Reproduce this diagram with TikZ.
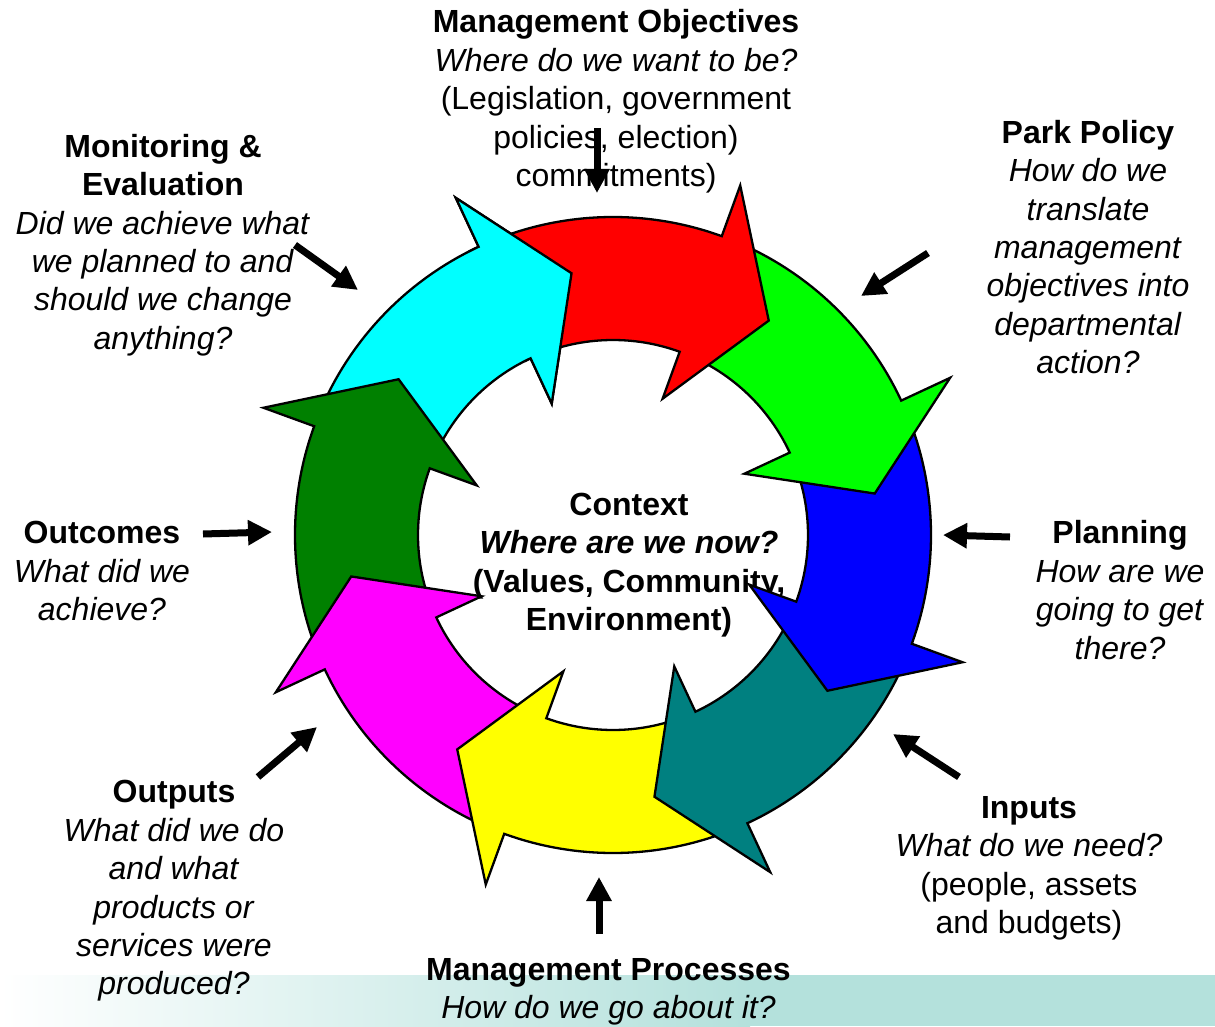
\documentclass[tikz,border=0pt]{standalone}
\usepackage{fontspec}
\setmainfont{Liberation Sans}
\usetikzlibrary{arrows.meta}

\definecolor{bandteal}{RGB}{180,225,220}
\definecolor{cycred}{RGB}{255,0,0}
\definecolor{cycgreen}{RGB}{0,255,0}
\definecolor{cycblue}{RGB}{0,0,255}
\definecolor{cycteal}{RGB}{0,128,128}
\definecolor{cycyellow}{RGB}{255,255,0}
\definecolor{cycmagenta}{RGB}{255,0,255}
\definecolor{cycdkgreen}{RGB}{0,128,0}
\definecolor{cyccyan}{RGB}{0,255,255}

\tikzset{
  ringpiece/.style={draw=black, line width=2.3pt, line join=miter},
  pointer/.style={line width=7pt, -{Triangle[length=24pt,width=24pt]}},
  caption/.style={align=center, font=\fontsize{32}{38.4}\selectfont, inner sep=0pt},
}

% colour, angle of the back of the head
\newcommand{\ringarrow}[2]{%
  \filldraw[ringpiece, fill=#1] (#2+43:\Rout) arc[start angle=#2+43, end angle=#2, radius=\Rout]
    -- (#2:\Rbo) -- (#2-16:\Rtip) -- (#2:\Rbi) -- (#2:\Rin)
    arc[start angle=#2, end angle=#2+43, radius=\Rin] -- cycle;}

\begin{document}
\begin{tikzpicture}[x=1pt,y=1pt]
\def\Rout{318}
\def\Rin{195}
\def\Rbo{372}
\def\Rbi{145}
\def\Rtip{265}

\useasboundingbox (-613,-491) rectangle (602,535);

% band along the bottom
\shade[left color=white, right color=bandteal] (-613,-491) rectangle (137,-440);
\fill[bandteal] (137,-491) rectangle (602,-440);

% texts
\node[caption] (objectives) at (3,433.5) {\textbf{Management Objectives}\\\textit{Where do we want to be?}\\(Legislation, government\\policies, election)\\commitments)};
\node[caption] (policy) at (475,288) {\textbf{Park Policy}\\\textit{How do we}\\\textit{translate}\\\textit{management}\\\textit{objectives into}\\\textit{departmental}\\\textit{action?}};
\node[caption] (planning) at (507,-55) {\textbf{Planning}\\\textit{How are we}\\\textit{going to get}\\\textit{there?}};
\node[caption] (inputs) at (416,-333.5) {\textbf{Inputs}\\\textit{What do we need?}\\(people, assets\\and budgets)};
\node[caption] (processes) at (-4.5,-457) {\textbf{Management Processes}\\\textit{How do we go about it?}};
\node[caption] (outputs) at (-439,-356) {\textbf{Outputs}\\\textit{What did we do}\\\textit{and what}\\\textit{products or}\\\textit{services were}\\\textit{produced?}};
\node[caption] (outcomes) at (-511,-36) {\textbf{Outcomes}\\\textit{What did we}\\\textit{achieve?}};
\node[caption] (monitoring) at (-450,290) {\textbf{Monitoring \&}\\\textbf{Evaluation}\\\textit{Did we achieve what}\\\textit{we planned to and}\\\textit{should we change}\\\textit{anything?}};
\node[caption] (context) at (16,-30) {\textbf{Context}\\\textbf{\textit{Where are we now?}}\\\textbf{(Values, Community,}\\\textbf{Environment)}};

% ring, backwards so each head lies on the next tail
\ringarrow{cyccyan}{115}
\ringarrow{cycdkgreen}{160}
\ringarrow{cycmagenta}{205}
\ringarrow{cycyellow}{250}
\ringarrow{cycteal}{295}
\ringarrow{cycblue}{340}
\ringarrow{cycgreen}{25}
\ringarrow{cycred}{70}
% cyan head again, over the red tail
\begin{scope}
\clip (0,0) -- (96:420) arc[start angle=96, end angle=117, radius=420] -- cycle;
\ringarrow{cyccyan}{115}
\end{scope}

% pointers
\coordinate (objectives-a) at (-16,407);
\coordinate (objectives-b) at (-16,342);
\coordinate (policy-a) at (315,282);
\coordinate (policy-b) at (248,239);
\coordinate (planning-a) at (397,-2);
\coordinate (planning-b) at (330,0);
\coordinate (inputs-a) at (346,-242);
\coordinate (inputs-b) at (280,-199);
\coordinate (processes-a) at (-14,-399);
\coordinate (processes-b) at (-14,-342);
\coordinate (outputs-a) at (-355,-242);
\coordinate (outputs-b) at (-296,-192);
\coordinate (outcomes-a) at (-410,1);
\coordinate (outcomes-b) at (-341,3);
\coordinate (monitoring-a) at (-318,290);
\coordinate (monitoring-b) at (-255,245);

\draw[pointer] (objectives-a) -- (objectives-b);
\draw[pointer] (policy-a) -- (policy-b);
\draw[pointer] (planning-a) -- (planning-b);
\draw[pointer] (inputs-a) -- (inputs-b);
\draw[pointer] (processes-a) -- (processes-b);
\draw[pointer] (outputs-a) -- (outputs-b);
\draw[pointer] (outcomes-a) -- (outcomes-b);
\draw[pointer] (monitoring-a) -- (monitoring-b);
\end{tikzpicture}
\end{document}
